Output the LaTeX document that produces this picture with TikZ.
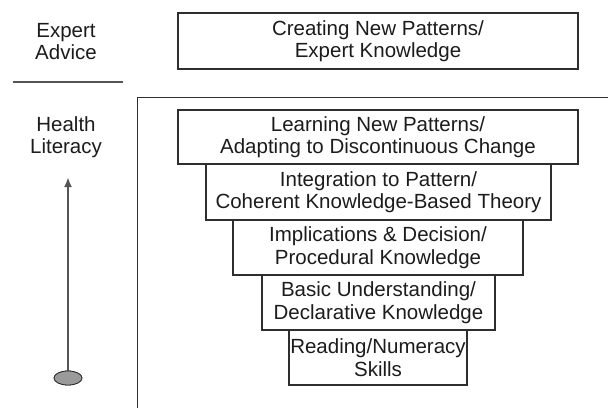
\documentclass[tikz,border=0pt]{standalone}
\usepackage{fontspec}
\setmainfont{Liberation Sans}
\usetikzlibrary{shapes.geometric,arrows.meta}
\definecolor{ink}{HTML}{1C1C1C}
\definecolor{edge}{HTML}{2E2E2E}
\definecolor{rule}{HTML}{555555}
\definecolor{basefill}{HTML}{9A9A9A}
\tikzset{
  lvl/.style={draw=edge, line width=1.8pt, fill=white, align=center, text=ink,
    inner sep=0pt, font=\fontsize{20.5}{22.5}\selectfont},
  side/.style={align=center, text=ink, inner sep=0pt, font=\fontsize{20.5}{22}\selectfont},
}
\begin{document}
\begin{tikzpicture}[x=1pt,y=-1pt]
\useasboundingbox (0,0) rectangle (608,408);
% frame
\coordinate (fr) at (608,97);
\coordinate (fc) at (137,97);
\coordinate (fb) at (137,408);
\draw[edge, line width=1pt] (fr) -- (fc) -- (fb);
% separator line
\coordinate (s1) at (13,82);
\coordinate (s2) at (123,82);
\draw[rule, line width=1.6pt] (s1) -- (s2);
% side labels
\node[side] (ea) at (66,42) {Expert\\Advice};
\node[side] (hl) at (66,137.5) {Health\\Literacy};
% boxes
\node[lvl, minimum width=400pt, minimum height=56pt] (top) at (378,41) {Creating New Patterns/\\Expert Knowledge};
\node[lvl, minimum width=345pt, minimum height=56pt] (b2) at (378.5,192) {Integration to Pattern/\\Coherent Knowledge-Based Theory};
\node[lvl, minimum width=400pt, minimum height=54pt] (b1) at (378,137) {Learning New Patterns/\\Adapting to Discontinuous Change};
\node[lvl, minimum width=233pt, minimum height=55pt] (b4) at (378.5,302.5) {Basic Understanding/\\Declarative Knowledge};
\node[lvl, minimum width=290pt, minimum height=55pt] (b3) at (378,247.5) {Implications \& Decision/\\Procedural Knowledge};
\node[lvl, minimum width=178pt, minimum height=55pt] (b5) at (378,357.5) {Reading/Numeracy\\Skills};
% arrow
\node[ellipse, draw=edge, line width=0.8pt, fill=basefill, minimum width=28pt, minimum height=14pt, inner sep=0pt] (base) at (68,378) {};
\coordinate (tip) at (68,177);
\draw[rule, line width=2pt, -{Latex[length=10pt,width=8pt]}] (base.center) -- (tip);
\node[ellipse, draw=edge, line width=0.8pt, fill=basefill, minimum width=28pt, minimum height=14pt, inner sep=0pt] at (base) {};
\end{tikzpicture}
\end{document}
